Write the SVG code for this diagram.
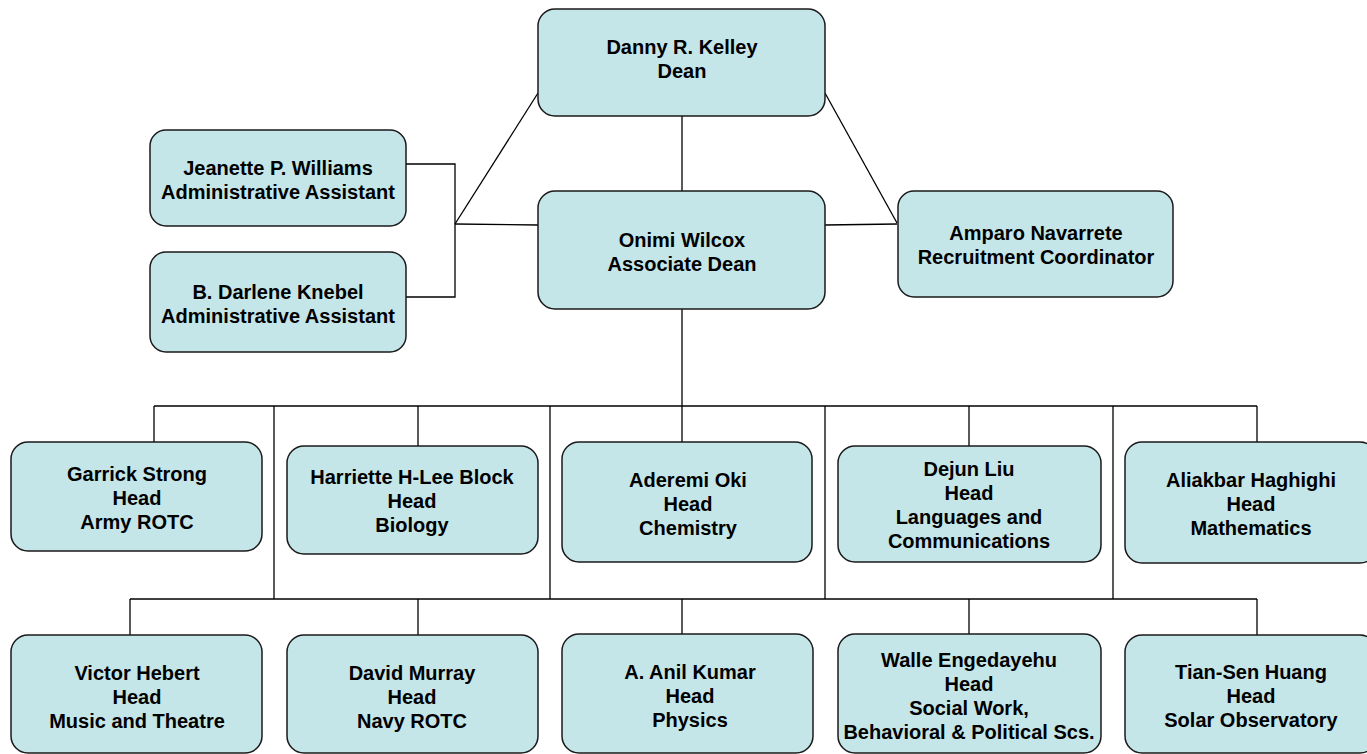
<svg xmlns="http://www.w3.org/2000/svg" width="1367" height="754" viewBox="0 0 1367 754">
<style>
.box{fill:#c5e6e8;stroke:#1a1a1a;stroke-width:1.5}
.t{font-family:"Liberation Sans",Arial,sans-serif;font-weight:bold;font-size:20px;fill:#000;text-anchor:middle}
.ln{fill:none;stroke:#000;stroke-width:1.3}
</style>
<rect width="1367" height="754" fill="#fff"/>
<g id="connectors" class="ln">
<line x1="682" y1="116" x2="682" y2="191"/>
<line x1="538" y1="93" x2="455" y2="224"/>
<line x1="455" y1="224" x2="538" y2="225"/>
<polyline points="406,164 455,164 455,297 406,297"/>
<line x1="825" y1="93" x2="897" y2="223"/>
<line x1="825" y1="225" x2="897" y2="224"/>
<line x1="682" y1="309" x2="682" y2="406"/>
<line x1="154" y1="406" x2="1257" y2="406"/>
<line x1="154" y1="406" x2="154" y2="442"/>
<line x1="418" y1="406" x2="418" y2="446"/>
<line x1="682" y1="406" x2="682" y2="442"/>
<line x1="969" y1="406" x2="969" y2="446"/>
<line x1="1257" y1="406" x2="1257" y2="442"/>
<line x1="274" y1="406" x2="274" y2="599"/>
<line x1="550" y1="406" x2="550" y2="599"/>
<line x1="825" y1="406" x2="825" y2="599"/>
<line x1="1113" y1="406" x2="1113" y2="599"/>
<line x1="130" y1="599" x2="1257" y2="599"/>
<line x1="130" y1="599" x2="130" y2="635"/>
<line x1="418" y1="599" x2="418" y2="635"/>
<line x1="682" y1="599" x2="682" y2="634"/>
<line x1="969" y1="599" x2="969" y2="634"/>
<line x1="1257" y1="599" x2="1257" y2="635"/>
</g>
<g id="dean"><rect class="box" x="538" y="9" width="287" height="107" rx="17"/>
<text class="t" x="682" y="54">Danny R. Kelley</text><text class="t" x="682" y="78">Dean</text></g>
<g id="assoc-dean"><rect class="box" x="538" y="191" width="287" height="118" rx="17"/>
<text class="t" x="682" y="247">Onimi Wilcox</text><text class="t" x="682" y="271">Associate Dean</text></g>
<g id="williams"><rect class="box" x="150" y="130" width="256" height="96" rx="16"/>
<text class="t" x="278" y="175">Jeanette P. Williams</text><text class="t" x="278" y="199">Administrative Assistant</text></g>
<g id="knebel"><rect class="box" x="150" y="252" width="256" height="100" rx="16"/>
<text class="t" x="278" y="299">B. Darlene Knebel</text><text class="t" x="278" y="323">Administrative Assistant</text></g>
<g id="navarrete"><rect class="box" x="898" y="191" width="275" height="106" rx="16"/>
<text class="t" x="1036" y="240">Amparo Navarrete</text><text class="t" x="1036" y="264">Recruitment Coordinator</text></g>
<g id="strong"><rect class="box" x="11" y="442" width="251" height="109" rx="17"/>
<text class="t" x="137" y="481">Garrick Strong</text><text class="t" x="137" y="505">Head</text><text class="t" x="137" y="529">Army ROTC</text></g>
<g id="block"><rect class="box" x="287" y="446" width="251" height="108" rx="17"/>
<text class="t" x="412" y="484">Harriette H-Lee Block</text><text class="t" x="412" y="508">Head</text><text class="t" x="412" y="532">Biology</text></g>
<g id="oki"><rect class="box" x="562" y="442" width="250" height="120" rx="17"/>
<text class="t" x="688" y="487">Aderemi Oki</text><text class="t" x="688" y="511">Head</text><text class="t" x="688" y="535">Chemistry</text></g>
<g id="liu"><rect class="box" x="838" y="446" width="263" height="116" rx="17"/>
<text class="t" x="969" y="476">Dejun Liu</text><text class="t" x="969" y="500">Head</text><text class="t" x="969" y="524">Languages and</text><text class="t" x="969" y="548">Communications</text></g>
<g id="haghighi"><rect class="box" x="1125" y="442" width="252" height="121" rx="17"/>
<text class="t" x="1251" y="487">Aliakbar Haghighi</text><text class="t" x="1251" y="511">Head</text><text class="t" x="1251" y="535">Mathematics</text></g>
<g id="hebert"><rect class="box" x="11" y="635" width="251" height="118" rx="17"/>
<text class="t" x="137" y="680">Victor Hebert</text><text class="t" x="137" y="704">Head</text><text class="t" x="137" y="728">Music and Theatre</text></g>
<g id="murray"><rect class="box" x="287" y="635" width="251" height="118" rx="17"/>
<text class="t" x="412" y="680">David Murray</text><text class="t" x="412" y="704">Head</text><text class="t" x="412" y="728">Navy ROTC</text></g>
<g id="kumar"><rect class="box" x="562" y="634" width="251" height="119" rx="17"/>
<text class="t" x="690" y="679">A. Anil Kumar</text><text class="t" x="690" y="703">Head</text><text class="t" x="690" y="727">Physics</text></g>
<g id="engedayehu"><rect class="box" x="838" y="634" width="263" height="119" rx="17"/>
<text class="t" x="969" y="667">Walle Engedayehu</text><text class="t" x="969" y="691">Head</text><text class="t" x="969" y="715">Social Work,</text><text class="t" x="969" y="739">Behavioral &amp; Political Scs.</text></g>
<g id="huang"><rect class="box" x="1125" y="635" width="252" height="118" rx="17"/>
<text class="t" x="1251" y="679">Tian-Sen Huang</text><text class="t" x="1251" y="703">Head</text><text class="t" x="1251" y="727">Solar Observatory</text></g>
</svg>
